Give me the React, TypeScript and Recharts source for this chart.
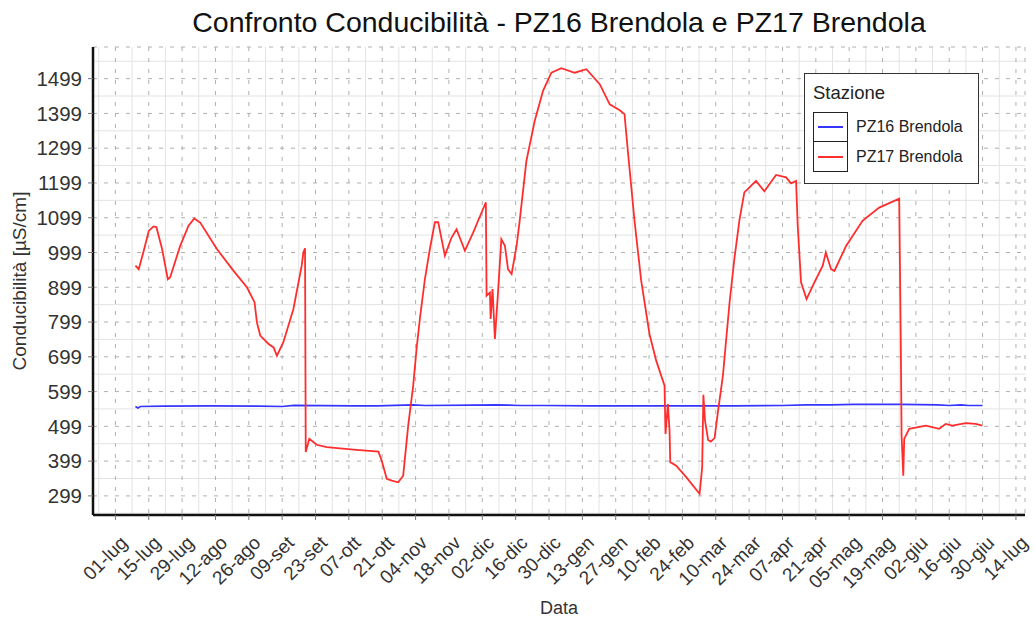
import { LineChart, Line, XAxis, YAxis, CartesianGrid, Legend } from "recharts";

// tick labels along the date axis, one every 14 days starting 01-lug
const xTickLabels = [
  "01-lug", "15-lug", "29-lug", "12-ago", "26-ago", "09-set", "23-set",
  "07-ott", "21-ott", "04-nov", "18-nov", "02-dic", "16-dic", "30-dic",
  "13-gen", "27-gen", "10-feb", "24-feb", "10-mar", "24-mar", "07-apr",
  "21-apr", "05-mag", "19-mag", "02-giu", "16-giu", "30-giu", "14-lug",
];
const xTicks = xTickLabels.map((_, i) => i * 14);
const xMinor = [-7, ...xTicks.map((t) => t + 7)].filter((t) => t < 381);

const yTicks = [299, 399, 499, 599, 699, 799, 899, 999, 1099, 1199, 1299, 1399, 1499];
const yMinor = [249, 349, 449, 549, 649, 749, 849, 949, 1049, 1149, 1249, 1349, 1449, 1549];

// day offsets from 01-lug
const pz16Days = [8.4, 9.5, 10.5, 20, 40, 60, 70, 75, 100, 110, 125, 130, 150, 160, 170, 180, 200, 230, 260, 280, 290, 300, 310, 330, 345, 350, 355, 358, 364];
const pz16Values = [556, 552, 556, 557, 558, 557, 556, 559, 558, 558, 561, 559, 560, 561, 559, 559, 558, 558, 558, 559, 561, 561, 562, 562, 561, 559, 561, 559, 559];

const pz17Days = [
  8.4, 9.8, 11.9, 14, 16, 17.2, 19.6, 22, 23, 27.2, 30.7, 33.1, 35.6, 42.6, 49.6, 55.2,
  58.4, 59.4, 60.8, 64.3, 66.4, 67.8, 70.5, 74.7, 78.2, 78.9, 79.6, 79.9, 81.4, 84.5,
  88.7, 99.9, 110.4, 111.8, 113.9, 116, 118.7, 120.8, 122.9, 125, 126.4, 127.8, 129.9,
  132, 134.1, 135.5, 138.3, 141.1, 143.2, 146.7, 150.2, 153.7, 155.5, 155.8, 157.2,
  157.5, 158.3, 159.3, 160.6, 162, 163.5, 164.8, 166.3, 168.4, 169.7, 172.5, 176, 179.5,
  183, 187.2, 192.8, 197.7, 203.3, 207.5, 211.7, 213.7, 215.1, 217.9, 220.7, 224.2, 227,
  230.5, 230.9, 231.9, 232.6, 232.9, 235.4, 239.6, 245.2, 246.3, 246.8, 247.5, 248.8,
  249.9, 251.5, 252.9, 255, 257.8, 259.8, 262, 264, 268.9, 272.4, 277.3, 281.5, 283.6,
  285.7, 286.4, 287.8, 290.1, 293.4, 296.9, 298.2, 300.4, 301.8, 306.7, 313.6, 320.6,
  329, 329.7, 330, 330.7, 331.1, 333.2, 340.2, 345.8, 348.5, 351.3, 356.9, 361.1, 363.9,
];
const pz17Values = [
  961, 951, 1004, 1061, 1074, 1072, 1009, 922, 928, 1018, 1076, 1097, 1085, 1009, 946, 899,
  856, 798, 760, 736, 726, 702, 741, 836, 961, 999, 1011, 425, 463, 446,
  439, 432, 426, 400, 348, 343, 338, 357, 501, 616, 721, 808, 922,
  1009, 1086, 1086, 990, 1042, 1066, 1004, 1057, 1114, 1143, 875, 884,
  808, 894, 750, 884, 1037, 1018, 951, 937, 1018, 1090, 1262, 1377, 1464,
  1516, 1529, 1516, 1526, 1483, 1425, 1408, 1397, 1291, 1090, 918, 764, 688,
  616, 477, 563, 487, 396, 386, 353, 305, 381, 590, 515, 460,
  455, 465, 540, 645, 856, 980, 1095, 1172, 1205, 1175, 1222, 1215, 1198,
  1205, 1076, 913, 865, 913, 961, 999, 951, 946, 1018, 1090, 1128,
  1154, 712, 472, 357, 463, 492, 501, 492, 506, 501, 508, 506, 501,
];

const pz16 = pz16Days.map((d, i) => ({ d, v: pz16Values[i] }));
const pz17 = pz17Days.map((d, i) => ({ d, v: pz17Values[i] }));

const FONT = "'Liberation Sans', Arial, sans-serif";

function DateTick({ x, y, payload }: any) {
  const label = xTickLabels[xTicks.indexOf(payload.value)];
  return (
    <text
      transform={`translate(${x + 13},${y + 22}) rotate(-45)`}
      textAnchor="end"
      fontSize={19}
      fontFamily={FONT}
      fill="#333"
    >
      {label}
    </text>
  );
}

function StationLegend({ payload }: any) {
  return (
    <div
      style={{
        width: 175,
        height: 111,
        boxSizing: "border-box",
        border: "1.5px solid #333",
        background: "#fff",
        fontFamily: FONT,
        color: "#222",
        padding: "8px 0 0 8px",
      }}
    >
      <div style={{ fontSize: 18.5, lineHeight: "22px", marginBottom: 8 }}>Stazione</div>
      {(payload || []).map((item: any, i: number) => (
        <div key={item.value} style={{ display: "flex", alignItems: "center", height: 30 }}>
          <div
            style={{
              width: 35,
              height: 30,
              boxSizing: "border-box",
              border: "1.5px solid #222",
              borderTop: i === 0 ? "1.5px solid #222" : "none",
              display: "flex",
              alignItems: "center",
              justifyContent: "center",
            }}
          >
            <div style={{ width: 25, height: 2, background: item.color }} />
          </div>
          <span style={{ fontSize: 16, marginLeft: 8 }}>{item.value}</span>
        </div>
      ))}
    </div>
  );
}

export default function App() {
  return (
    <div style={{ position: "absolute", left: 0, top: 0, width: 1035, height: 619, background: "#fff", fontFamily: FONT }}>
      <div
        style={{
          position: "absolute",
          left: 93,
          width: 932,
          top: 5,
          textAlign: "center",
          fontSize: 28.5,
          color: "#111",
          lineHeight: "34px",
        }}
      >
        Confronto Conducibilità - PZ16 Brendola e PZ17 Brendola
      </div>
      <LineChart width={1035} height={619} margin={{ top: 47, right: 10, bottom: 0, left: 0 }}>
        <CartesianGrid
          stroke="#e3e3e3"
          strokeWidth={1}
          horizontalValues={yMinor}
          verticalValues={xMinor}
        />
        <CartesianGrid stroke="#b0b0b0" strokeDasharray="4 7" strokeWidth={1} />
        <XAxis
          type="number"
          dataKey="d"
          domain={[-9.4, 381.8]}
          ticks={xTicks}
          allowDataOverflow
          height={104}
          tickSize={5}
          tickMargin={2}
          tick={<DateTick />}
          tickLine={{ stroke: "#777" }}
          axisLine={{ stroke: "#111", strokeWidth: 2.5 }}
          label={{ value: "Data", position: "insideBottom", offset: 5, fontSize: 18, fill: "#333", fontFamily: FONT }}
        />
        <YAxis
          type="number"
          domain={[244, 1590]}
          ticks={yTicks}
          allowDataOverflow
          width={93}
          tickSize={5}
          tickMargin={6}
          tick={{ fontSize: 20.5, fill: "#333", fontFamily: FONT }}
          tickLine={{ stroke: "#777" }}
          axisLine={{ stroke: "#111", strokeWidth: 2.5 }}
          label={{
            content: ({ viewBox }: any) => (
              <text
                transform={`translate(26,${viewBox.y + viewBox.height / 2}) rotate(-90)`}
                textAnchor="middle"
                fontSize={19}
                fill="#333"
                fontFamily={FONT}
              >
                Conducibilità [µS/cm]
              </text>
            ),
          }}
        />
        <Legend
          layout="horizontal"
          verticalAlign="middle"
          align="center"
          content={<StationLegend />}
          wrapperStyle={{ left: 804, top: 73, width: 175 }}
        />
        <Line
          data={pz16}
          dataKey="v"
          name="PZ16 Brendola"
          type="linear"
          stroke="#3535ff"
          strokeWidth={1.7}
          dot={false}
          isAnimationActive={false}
        />
        <Line
          data={pz17}
          dataKey="v"
          name="PZ17 Brendola"
          type="linear"
          stroke="#ff2e2e"
          strokeWidth={1.8}
          dot={false}
          isAnimationActive={false}
        />
      </LineChart>
    </div>
  );
}
